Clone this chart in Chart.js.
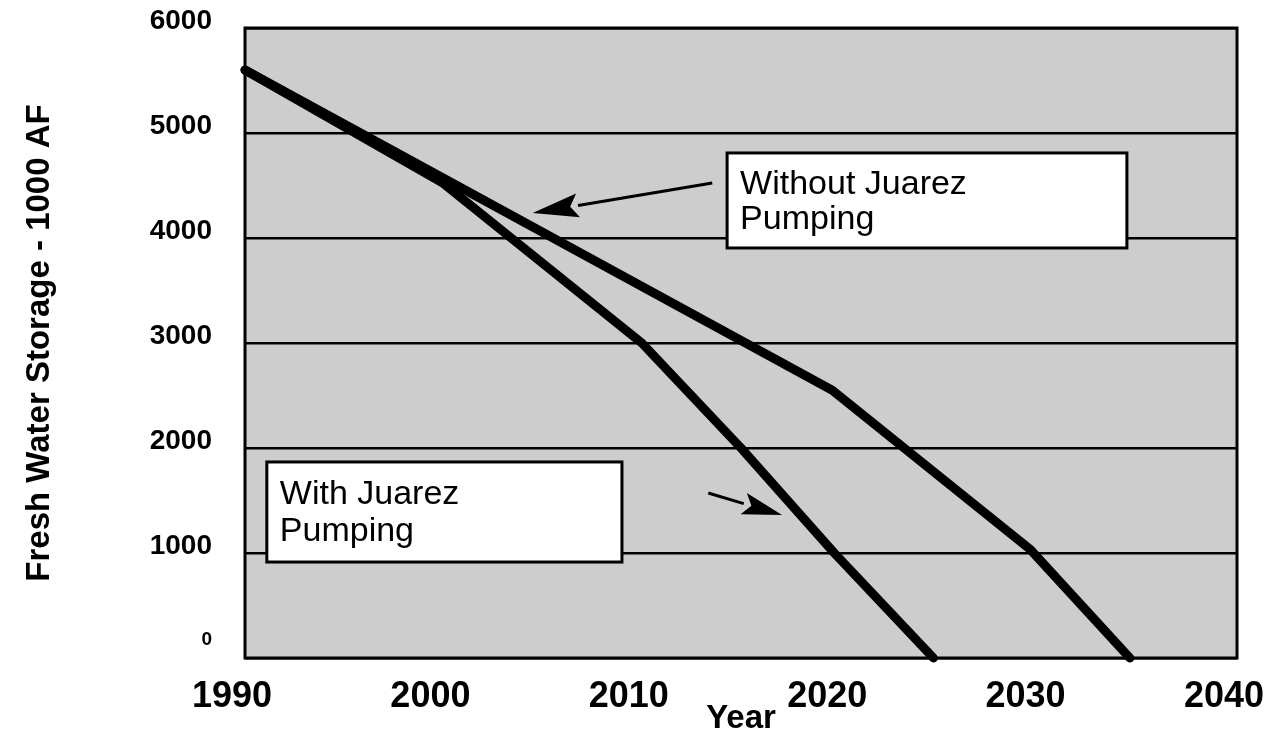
<!DOCTYPE html>
<html>
<head>
<meta charset="utf-8">
<script src="https://cdn.jsdelivr.net/npm/chart.js@4.4.1/dist/chart.umd.min.js"></script>
<style>
  html, body { margin: 0; padding: 0; background: #ffffff; }
  #wrap { width: 1272px; height: 739px; position: relative; }
</style>
</head>
<body>
<div id="wrap"><canvas id="c" width="1272" height="739"></canvas></div>
<script>
// ---- data ----
const yearsWith = [1990, 2000, 2010, 2015, 2019.7, 2024.7];
const storageWith = [5600, 4520, 3000, 2000, 1000, 0];
const yearsWithout = [1990, 2019.6, 2029.6, 2034.6];
const storageWithout = [5600, 2550, 1030, 0];
const xTicks = [1990, 2000, 2010, 2020, 2030, 2040];
const yTicks = [0, 1000, 2000, 3000, 4000, 5000, 6000];
const labelWithout = ['Without Juarez', 'Pumping'];
const labelWith = ['With Juarez', 'Pumping'];
const yTitle = 'Fresh Water Storage - 1000 AF';
const xTitle = 'Year';

// annotation anchors in data units (year, storage)
const boxWithout = { x0: 2014.3, x1: 2034.45, y0: 4810, y1: 3905 };
const boxWith = { x0: 1991.1, x1: 2009.0, y0: 1867, y1: 914 };
const arrowWithout = { from: [2013.55, 4524], to: [2004.5, 4238] };
const arrowWith = { from: [2013.35, 1571], to: [2017.07, 1362] };

const FONT = "'Liberation Sans', Arial, Helvetica, sans-serif";

function toXY(arr, vals) { return arr.map((x, i) => ({ x: x, y: vals[i] })); }

const bgPlugin = {
  id: 'bg',
  beforeDraw(chart) {
    const { ctx, chartArea: a } = chart;
    ctx.save();
    ctx.fillStyle = '#cdcdcd';
    ctx.fillRect(a.left, a.top, a.right - a.left, a.bottom - a.top);
    ctx.restore();
  }
};

function drawBox(chart, box, lines) {
  const { ctx, scales } = chart;
  const x0 = scales.x.getPixelForValue(box.x0), x1 = scales.x.getPixelForValue(box.x1);
  const y0 = scales.y.getPixelForValue(box.y0), y1 = scales.y.getPixelForValue(box.y1);
  ctx.save();
  ctx.fillStyle = '#ffffff';
  ctx.fillRect(x0, y0, x1 - x0, y1 - y0);
  ctx.strokeStyle = '#000';
  ctx.lineWidth = 3;
  ctx.strokeRect(x0, y0, x1 - x0, y1 - y0);
  ctx.fillStyle = '#000';
  ctx.font = '34px ' + FONT;
  ctx.textBaseline = 'middle';
  ctx.textAlign = 'left';
  const h = y1 - y0;
  ctx.fillText(lines[0], x0 + 13, y0 + h * 0.33);
  ctx.fillText(lines[1], x0 + 13, y0 + h * 0.70);
  ctx.restore();
}

function drawArrow(chart, ar, headLen, headHalf) {
  const { ctx, scales } = chart;
  const fx = scales.x.getPixelForValue(ar.from[0]), fy = scales.y.getPixelForValue(ar.from[1]);
  const tx = scales.x.getPixelForValue(ar.to[0]), ty = scales.y.getPixelForValue(ar.to[1]);
  const ang = Math.atan2(ty - fy, tx - fx);
  const bx = tx - headLen * Math.cos(ang), by = ty - headLen * Math.sin(ang);
  ctx.save();
  ctx.strokeStyle = '#000';
  ctx.fillStyle = '#000';
  ctx.lineWidth = 3;
  ctx.beginPath();
  ctx.moveTo(fx, fy);
  ctx.lineTo(bx, by);
  ctx.stroke();
  ctx.beginPath();
  ctx.moveTo(tx, ty);
  ctx.lineTo(bx + headHalf * Math.sin(ang), by - headHalf * Math.cos(ang));
  ctx.lineTo(bx + 8 * Math.cos(ang), by + 8 * Math.sin(ang));
  ctx.lineTo(bx - headHalf * Math.sin(ang), by + headHalf * Math.cos(ang));
  ctx.closePath();
  ctx.fill();
  ctx.restore();
}

const annoPlugin = {
  id: 'anno',
  beforeDatasetsDraw(chart) {
    const { ctx, chartArea: a } = chart;
    ctx.save();
    ctx.strokeStyle = '#000';
    ctx.lineWidth = 3;
    ctx.strokeRect(a.left, a.top, a.right - a.left, a.bottom - a.top);
    ctx.restore();
  },
  afterDatasetsDraw(chart) {
    drawBox(chart, boxWithout, labelWithout);
    drawBox(chart, boxWith, labelWith);
    drawArrow(chart, arrowWithout, 46, 12);
    drawArrow(chart, arrowWith, 40, 11);
  }
};

const lineStyle = {
  borderColor: '#000000',
  backgroundColor: '#000000',
  borderWidth: 9,
  pointRadius: 0,
  pointHoverRadius: 0,
  tension: 0,
  borderCapStyle: 'round',
  borderJoinStyle: 'round',
  clip: false,
  fill: false
};

new Chart(document.getElementById('c'), {
  type: 'line',
  data: {
    datasets: [
      Object.assign({ label: 'With Juarez Pumping', data: toXY(yearsWith, storageWith) }, lineStyle),
      Object.assign({ label: 'Without Juarez Pumping', data: toXY(yearsWithout, storageWithout) }, lineStyle)
    ]
  },
  options: {
    responsive: false,
    animation: false,
    events: [],
    layout: { padding: { top: 28, right: 35, left: 0, bottom: 0 } },
    plugins: { legend: { display: false }, tooltip: { enabled: false } },
    scales: {
      x: {
        type: 'linear',
        min: xTicks[0],
        max: xTicks[xTicks.length - 1],
        afterBuildTicks(scale) { scale.ticks = xTicks.map(v => ({ value: v })); },
        afterFit(scale) { scale.height = 81; scale.paddingLeft = 0; scale.paddingRight = 0; },
        grid: { display: false, drawTicks: false },
        border: { display: false },
        ticks: {
          color: '#000',
          font: { family: FONT, size: 36, weight: 'bold' },
          padding: 17,
          maxRotation: 0,
          autoSkip: false,
          labelOffset: -13,
          callback: v => String(v)
        },
        title: {
          display: true,
          text: xTitle,
          color: '#000',
          font: { family: FONT, size: 33, weight: 'bold' },
          padding: { top: 0, bottom: 0 }
        }
      },
      y: {
        type: 'linear',
        min: yTicks[0],
        max: yTicks[yTicks.length - 1],
        afterBuildTicks(scale) { scale.ticks = yTicks.map(v => ({ value: v })); },
        afterFit(scale) { scale.width = 245; scale.paddingTop = 0; scale.paddingBottom = 0; },
        grid: { color: '#000', lineWidth: 2.5, drawTicks: false },
        border: { display: false },
        ticks: {
          color: '#000',
          font: ctx => ({ family: FONT, size: ctx.tick && ctx.tick.value === 0 ? 19 : 28, weight: 'bold' }),
          padding: 33,
          labelOffset: -7,
          callback: v => v === 0 ? ['0', ''] : String(v)
        },
        title: {
          display: true,
          text: yTitle,
          color: '#000',
          font: { family: FONT, size: 33, weight: 'bold' },
          padding: { top: 20, bottom: 0 }
        }
      }
    }
  },
  plugins: [bgPlugin, annoPlugin]
});
</script>
</body>
</html>
